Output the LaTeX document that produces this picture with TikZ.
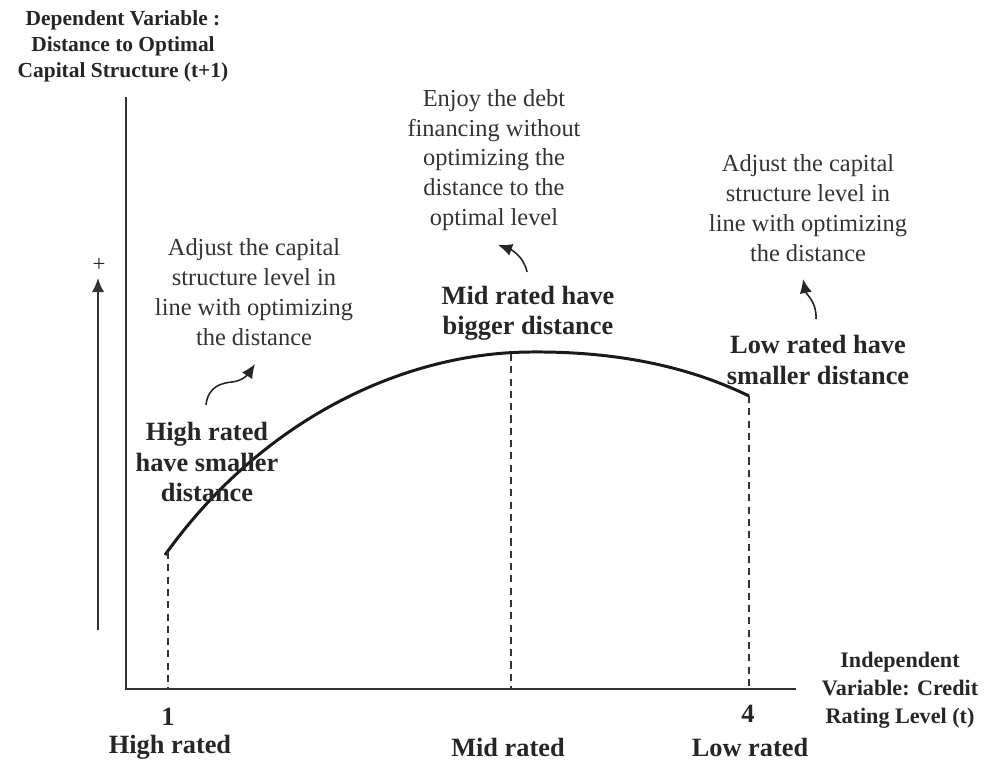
\documentclass[tikz,border=0pt]{standalone}
\usepackage{fontspec}
\setmainfont{Liberation Serif}
\usetikzlibrary{arrows.meta}
\definecolor{txtgray}{HTML}{333333}
\tikzset{
	>={Latex[length=8pt,width=7pt]},   % filled tips
	axis/.style={black!80, line width=1.1pt},
	guide/.style={black!80, dash pattern=on 4pt off 3pt, line width=0.8pt},
	curve/.style={black!90, line width=1.7pt},
	note/.style={align=center, text=txtgray, inner sep=0pt,
		font=\fontsize{13.9}{17}\selectfont},
	tag/.style={align=center, text=black!85, inner sep=0pt,
		font=\fontsize{15}{17.2}\selectfont\bfseries},
	axlabel/.style={align=center, text=black!85, inner sep=0pt,
		font=\fontsize{12.2}{14.8}\selectfont\bfseries},
	hint/.style={->, black!85, line width=0.9pt}
}

\begin{document}
\begin{tikzpicture}[x=0.02cm, y=0.02cm]
		\useasboundingbox (0,0) rectangle (986,762);
		
		% axes
		\coordinate (O)    at (126,73);
		\coordinate (ytop) at (126,665);
		\coordinate (xend) at (796,73);
		\draw[axis] (ytop) -- (O) -- (xend);
		
		% direction arrow on the left
		\coordinate (upS) at (98,132);
		\coordinate (upE) at (98,484);
		\draw[axis,->] (upS) -- (upE);
		\node[text=black!85, font=\fontsize{13}{15}\selectfont] (plus) at (99,497) {+};
		
		% the curve
		\coordinate (pHigh) at (165,207);
		\coordinate (pTop)  at (530,410);
		\coordinate (pLow)  at (749,366);
		\draw[curve] (pHigh) .. controls (260,340) and (400,409) .. (pTop)
		.. controls (630,411) and (700,390) .. (pLow);
		
		% dashed guides down to the axis
		\draw[guide] (168,210) -- (168,73);
		\draw[guide] (511,408) -- (511,73);
		\draw[guide] (pLow) -- (749,73);
		
		% axis titles
		\node[axlabel] (ytitle) at (123,716)
		{Dependent Variable :\\Distance to Optimal\\Capital Structure (t+1)};
		\node[axlabel, font=\fontsize{12.6}{16}\selectfont\bfseries] (xtitle) at (900,72)
		{Independent\\Variable: Credit\\Rating Level (t)};
		
		% tick labels
		\node[tag] (one)  at (168,45) {1};
		\node[tag] (four) at (748,48) {4};
		\node[tag] (hr) at (170,15) {High rated};
		\node[tag] (mr) at (508,15) {Mid rated};
		\node[tag] (lr) at (750,15) {Low rated};
		
		% bold remarks near the curve
		\node[tag] (tHigh) at (207,300) {High rated\\have smaller\\distance};
		\node[tag] (tMid)  at (528,449) {Mid rated have\\bigger distance};
		\node[tag] (tLow)  at (818,402) {Low rated have\\smaller distance};
		
		% explanations
		\node[note] (nHigh) at (254,470)
		{Adjust the capital\\structure level in\\line with optimizing\\the distance};
		\node[note] (nMid) at (494,602)
		{Enjoy the debt\\financing without\\optimizing the\\distance to the\\optimal level};
		\node[note] (nLow) at (808,554)
		{Adjust the capital\\structure level in\\line with optimizing\\the distance};
		
		% small curved pointers
		\draw[hint] (206,357) .. controls (208,376) and (222,379) .. (232,380)
		.. controls (243,381) and (249,389) .. (255,398);
		\draw[hint] (527,490) .. controls (524,505) and (512,512) .. (498,517);
		\draw[hint] (816,443) .. controls (817,460) and (806,468) .. (803,483);
		
	\end{tikzpicture}
\end{document}
